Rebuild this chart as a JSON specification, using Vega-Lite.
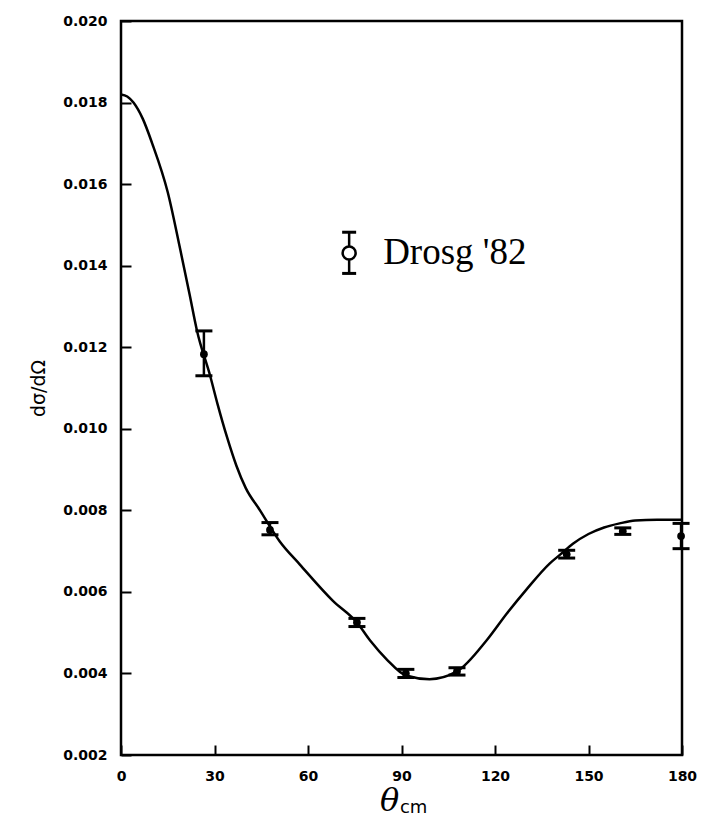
{
  "$schema": "https://vega.github.io/schema/vega-lite/v6.json",
  "autosize": {"type": "none"},
  "padding": {"left": 121, "top": 21, "right": 22, "bottom": 63},
  "width": 561,
  "height": 734,
  "background": "white",
  "config": {
    "view": {"stroke": "black", "strokeWidth": 2.5},
    "axis": {
      "grid": false,
      "domain": false,
      "ticks": true,
      "tickColor": "black",
      "tickWidth": 2,
      "labelFont": "DejaVu Sans",
      "labelFontWeight": "bold",
      "labelFontSize": 14,
      "labelColor": "black",
      "titleColor": "black"
    }
  },
  "datasets": {
    "curve": [
      {"x": 0, "y": 0.0182},
      {"x": 2, "y": 0.01815},
      {"x": 4, "y": 0.0180},
      {"x": 7, "y": 0.0176},
      {"x": 10, "y": 0.0170},
      {"x": 15, "y": 0.0158},
      {"x": 19, "y": 0.0144},
      {"x": 22, "y": 0.0133},
      {"x": 24.4, "y": 0.0124},
      {"x": 28.6, "y": 0.0113},
      {"x": 31, "y": 0.0106},
      {"x": 34, "y": 0.0098},
      {"x": 37, "y": 0.0091},
      {"x": 40, "y": 0.00855},
      {"x": 44.6, "y": 0.0080},
      {"x": 51, "y": 0.00723},
      {"x": 57.4, "y": 0.00667},
      {"x": 68, "y": 0.00578},
      {"x": 75.7, "y": 0.00525},
      {"x": 80, "y": 0.0048},
      {"x": 85.3, "y": 0.00434},
      {"x": 91.4, "y": 0.00395},
      {"x": 99, "y": 0.00386},
      {"x": 107.8, "y": 0.00405},
      {"x": 117.4, "y": 0.00482},
      {"x": 123.8, "y": 0.00547},
      {"x": 130, "y": 0.00605},
      {"x": 137.6, "y": 0.0067},
      {"x": 141, "y": 0.00692},
      {"x": 145, "y": 0.00718},
      {"x": 150, "y": 0.00742},
      {"x": 155, "y": 0.00758},
      {"x": 160, "y": 0.00768},
      {"x": 165, "y": 0.00775},
      {"x": 172, "y": 0.00777},
      {"x": 180, "y": 0.00777}
    ],
    "points": [
      {"x": 26.6, "y": 0.01183, "lo": 0.0113, "hi": 0.0124},
      {"x": 47.8, "y": 0.00752, "lo": 0.0074, "hi": 0.0077},
      {"x": 75.7, "y": 0.00525, "lo": 0.00515, "hi": 0.00535},
      {"x": 91.4, "y": 0.0040, "lo": 0.0039, "hi": 0.0041},
      {"x": 107.8, "y": 0.00405, "lo": 0.00396, "hi": 0.00414},
      {"x": 143, "y": 0.00692, "lo": 0.00683, "hi": 0.00702},
      {"x": 161, "y": 0.00749, "lo": 0.00741, "hi": 0.00757},
      {"x": 179.7, "y": 0.00737, "lo": 0.00706, "hi": 0.00768}
    ],
    "legend": [
      {"x": 73.2, "y": 0.01431, "lo": 0.01381, "hi": 0.01482, "label": "Drosg '82"}
    ],
    "sub": [
      {"x": 89.5, "y": 0.002, "label": "cm"}
    ]
  },
  "layer": [
    {
      "data": {"name": "curve"},
      "mark": {"type": "line", "interpolate": "monotone", "color": "black", "strokeWidth": 2.5},
      "encoding": {
        "x": {"field": "x", "type": "quantitative", "scale": {"domain": [0, 180], "nice": false},
          "axis": {"values": [0, 30, 60, 90, 120, 150, 180], "tickSize": -10, "labelPadding": 24, "labelFlush": false, "title": "θ", "titleFont": "DejaVu Serif", "titleFontStyle": "italic", "titleFontWeight": "normal", "titleFontSize": 32, "titlePadding": 2, "titleX": 268}},
        "y": {"field": "y", "type": "quantitative", "scale": {"domain": [0.002, 0.020], "nice": false, "zero": false},
          "axis": {"values": [0.002, 0.004, 0.006, 0.008, 0.010, 0.012, 0.014, 0.016, 0.018, 0.020], "tickSize": -10, "format": ".3f", "labelPadding": 24, "labelFlush": false, "title": "dσ/dΩ", "titleFont": "DejaVu Sans", "titleFontWeight": "normal", "titleFontSize": 19, "titlePadding": 14}}
      }
    },
    {
      "data": {"name": "points"},
      "mark": {"type": "rule", "color": "black", "strokeWidth": 2.5},
      "encoding": {
        "x": {"field": "x", "type": "quantitative"},
        "y": {"field": "lo", "type": "quantitative"},
        "y2": {"field": "hi"}
      }
    },
    {
      "data": {"name": "points"},
      "mark": {"type": "tick", "orient": "horizontal", "color": "black", "opacity": 1, "size": 17, "thickness": 3},
      "encoding": {
        "x": {"field": "x", "type": "quantitative"},
        "y": {"field": "lo", "type": "quantitative"}
      }
    },
    {
      "data": {"name": "points"},
      "mark": {"type": "tick", "orient": "horizontal", "color": "black", "opacity": 1, "size": 17, "thickness": 3},
      "encoding": {
        "x": {"field": "x", "type": "quantitative"},
        "y": {"field": "hi", "type": "quantitative"}
      }
    },
    {
      "data": {"name": "points"},
      "mark": {"type": "point", "shape": "circle", "filled": true, "color": "black", "opacity": 1, "size": 60},
      "encoding": {
        "x": {"field": "x", "type": "quantitative"},
        "y": {"field": "y", "type": "quantitative"}
      }
    },
    {
      "data": {"name": "legend"},
      "mark": {"type": "rule", "color": "black", "strokeWidth": 2.5},
      "encoding": {
        "x": {"field": "x", "type": "quantitative"},
        "y": {"field": "lo", "type": "quantitative"},
        "y2": {"field": "hi"}
      }
    },
    {
      "data": {"name": "legend"},
      "mark": {"type": "tick", "orient": "horizontal", "color": "black", "opacity": 1, "size": 14, "thickness": 3},
      "encoding": {
        "x": {"field": "x", "type": "quantitative"},
        "y": {"field": "lo", "type": "quantitative"}
      }
    },
    {
      "data": {"name": "legend"},
      "mark": {"type": "tick", "orient": "horizontal", "color": "black", "opacity": 1, "size": 14, "thickness": 3},
      "encoding": {
        "x": {"field": "x", "type": "quantitative"},
        "y": {"field": "hi", "type": "quantitative"}
      }
    },
    {
      "data": {"name": "legend"},
      "mark": {"type": "point", "shape": "circle", "filled": true, "fill": "white", "stroke": "black", "strokeWidth": 2.5, "size": 170, "opacity": 1},
      "encoding": {
        "x": {"field": "x", "type": "quantitative"},
        "y": {"field": "y", "type": "quantitative"}
      }
    },
    {
      "data": {"name": "legend"},
      "mark": {"type": "text", "align": "left", "baseline": "middle", "font": "Liberation Serif", "fontSize": 37, "color": "black", "dx": 34},
      "encoding": {
        "x": {"field": "x", "type": "quantitative"},
        "y": {"field": "y", "type": "quantitative"},
        "text": {"field": "label"}
      }
    },
    {
      "data": {"name": "sub"},
      "mark": {"type": "text", "align": "left", "baseline": "middle", "font": "DejaVu Sans", "fontSize": 18, "color": "black", "dy": 53},
      "encoding": {
        "x": {"field": "x", "type": "quantitative"},
        "y": {"field": "y", "type": "quantitative"},
        "text": {"field": "label"}
      }
    }
  ]
}
